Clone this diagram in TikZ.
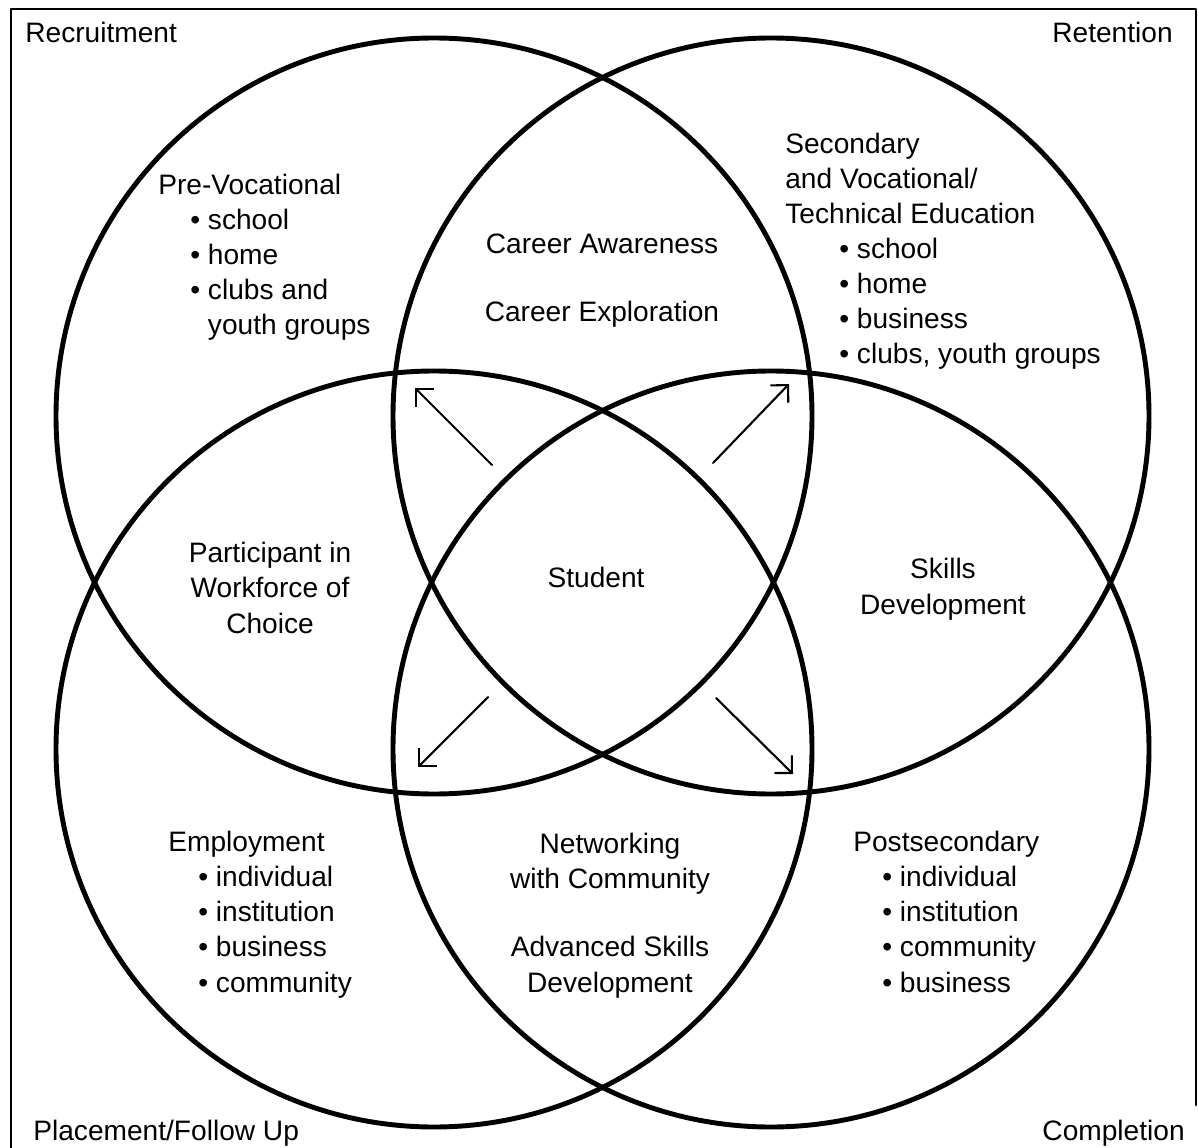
\documentclass[tikz,border=0pt]{standalone}
\usepackage{fontspec}
\setmainfont{Liberation Sans}
\usetikzlibrary{arrows.meta}
\tikzset{
  ring/.style={line width=2.8pt},
  frm/.style={line width=1.6pt},
  ptr/.style={line width=1.2pt,-{Straight Barb[length=0.25cm,width=0.5cm]}},
  lft/.style={inner sep=0pt,align=left,anchor=base west},
  mid/.style={inner sep=0pt,align=center,anchor=base},
  rgt/.style={inner sep=0pt,anchor=base east},
}
\newcommand{\itm}[1]{\hspace*{#1}\textbullet\ }
\newcommand{\cnt}[1]{\hspace*{#1}\hphantom{\textbullet\ }}

\begin{document}
\begin{tikzpicture}[x=0.02cm,y=-0.02cm,line join=round,line cap=round,font=\fontsize{16}{20}\selectfont]
\useasboundingbox (0,0) rectangle (1199,1148);
% frame, open at the foot
\draw[frm] (11,1148) -- (11,9) -- (1196,9) -- (1196,1105);
% the four circles
\coordinate (tl) at (434,416);
\coordinate (tr) at (771,416);
\coordinate (bl) at (434,749);
\coordinate (br) at (771,749);
\foreach \c in {tl,tr,bl,br}
  \draw[ring] (\c) circle (378);
% corner labels
\node[lft] (recr) at (25,43) {Recruitment};
\node[rgt] (ret) at (1173,43) {Retention};
\node[lft] (place) at (33,1140) {Placement/Follow Up};
\node[rgt] (compl) at (1185,1140) {Completion};
% texts inside the circles (base = last line)
\node[lft] (prevoc) at (158,335) {Pre-Vocational\\
  \itm{0.64cm}school\\
  \itm{0.64cm}home\\
  \itm{0.64cm}clubs and\\
  \cnt{0.64cm}youth groups};
\node[mid] (career) at (602,322) {Career Awareness\\[19pt]Career Exploration};
\node[lft] (second) at (785,364) {Secondary\\
  and Vocational/\\
  Technical Education\\
  \itm{1.08cm}school\\
  \itm{1.08cm}home\\
  \itm{1.08cm}business\\
  \itm{1.08cm}clubs, youth groups};
\node[mid] (work) at (270,633) {Participant in\\Workforce of\\Choice};
\node[mid] (stud) at (596,587) {Student};
\node[mid] (skill) at (943,614) {Skills\\Development};
\node[lft] (employ) at (168,992) {Employment\\
  \itm{0.6cm}individual\\
  \itm{0.6cm}institution\\
  \itm{0.6cm}business\\
  \itm{0.6cm}community};
\node[mid] (netw) at (610,992) {Networking\\with Community\\[19pt]Advanced Skills\\Development};
\node[lft] (postsec) at (853,992) {Postsecondary\\
  \itm{0.58cm}individual\\
  \itm{0.58cm}institution\\
  \itm{0.58cm}community\\
  \itm{0.58cm}business};
% arrows out of the centre
\coordinate (nw0) at (492,465); \coordinate (nw1) at (415,388);
\coordinate (ne0) at (713,463); \coordinate (ne1) at (789,384);
\coordinate (sw0) at (488,697); \coordinate (sw1) at (418,767);
\coordinate (se0) at (716,698); \coordinate (se1) at (793,774);
\foreach \d in {nw,ne,sw,se}
  \draw[ptr] (\d0) -- (\d1);
\end{tikzpicture}
\end{document}
